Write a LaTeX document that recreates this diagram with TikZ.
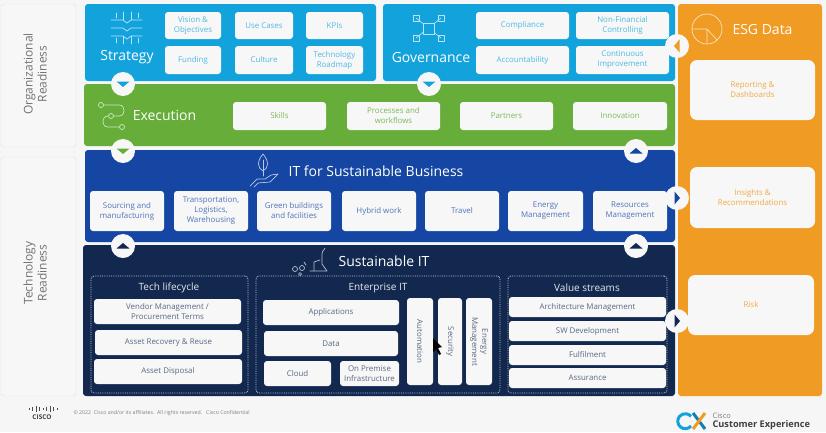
\documentclass[tikz,border=0pt]{standalone}
\usepackage{fontspec}
\setmainfont{Open Sans}
\definecolor{pagebg}{HTML}{F6F6F6}
\definecolor{cardbg}{HTML}{F7F7F7}
\definecolor{stratblue}{HTML}{13A3DC}
\definecolor{execgreen}{HTML}{66AD3A}
\definecolor{itblue}{HTML}{1546A3}
\definecolor{navy}{HTML}{12284F}
\definecolor{esgorange}{HTML}{F09B23}
\tikzset{
    size/.style 2 args={minimum width=#1,minimum height=#2,inner sep=0pt},
    panel/.style={rounded corners=3pt},
    sidecard/.style={fill=cardbg,draw=black!12,rounded corners=3pt},
    sidetext/.style={rotate=90,align=center,text=black!55,font=\fontsize{12}{14}\selectfont},
    card/.style={fill=cardbg,rounded corners=3pt,align=center,font=\fontsize{7.9}{10}\selectfont},
    stratcard/.style={card,text=stratblue!75},
    execcard/.style={card,text=execgreen!85},
    itcard/.style={card,text=itblue!75},
    navycard/.style={card,text=navy!70},
    uptext/.style={rotate=-90,align=center,text=navy!70,font=\fontsize{7.9}{10}\selectfont},
    esgcard/.style={card,rounded corners=7pt,text=esgorange!85},
    heading/.style={text=white,font=\fontsize{14}{16}\selectfont},
    subheading/.style={text=white!90!navy,font=\fontsize{10}{12}\selectfont},
    streambox/.style={draw=white!75!navy,densely dotted,line width=0.8pt,rounded corners=3pt},
    icon/.style={draw=white!70!#1,line width=0.7pt,line cap=round,line join=round},
    badge/.style={circle,fill=cardbg,minimum size=24pt,inner sep=0pt},
}
\begin{document}
\begin{tikzpicture}[x=1pt,y=-1pt]
    \useasboundingbox (0,0) rectangle (826,432);
    \fill[pagebg] (0,0) rectangle (826,432);

    % readiness columns
    \node[sidecard,size={75}{143}] (orgside) at (38.5,75.5) {};
    \node[sidecard,size={75}{239}] (techside) at (38.5,276.5) {};
    \node[sidetext] (orglabel) at (35,74) {Organizational\\Readiness};
    \node[sidetext] (techlabel) at (35,273) {Technology\\Readiness};

    % coloured panels
    \node[panel,fill=stratblue,size={291}{77}] (strategy) at (230.5,42.5) {};
    \node[panel,fill=stratblue,size={292}{77}] (governance) at (529,42.5) {};
    \node[panel,fill=execgreen,size={591}{62}] (execution) at (379.5,115) {};
    \node[panel,fill=itblue,size={590}{92}] (itbusiness) at (380,196) {};
    \node[panel,fill=navy,size={592}{151}] (sustit) at (379,320.5) {};
    \node[panel,fill=esgorange,size={144}{392}] (esg) at (750,200) {};

    % strategy
    \node[heading] (strategytitle) at (127,57) {Strategy};
    \node[stratcard,size={56}{27}] (vision) at (193,25.5) {Vision \&\\Objectives};
    \node[stratcard,size={58}{27}] (usecases) at (264,25.5) {Use Cases};
    \node[stratcard,size={57}{27}] (kpis) at (334.5,25.5) {KPIs};
    \node[stratcard,size={56}{28}] (funding) at (193,60) {Funding};
    \node[stratcard,size={58}{28}] (culture) at (264,60) {Culture};
    \node[stratcard,size={57}{28}] (roadmap) at (334.5,60) {Technology\\Roadmap};

    % governance
    \node[heading] (governancetitle) at (431,57) {Governance};
    \node[stratcard,size={93}{27}] (compliance) at (522.5,25.5) {Compliance};
    \node[stratcard,size={93}{27}] (nonfin) at (622.5,25.5) {Non-Financial\\Controlling};
    \node[stratcard,size={93}{28}] (account) at (522.5,60) {Accountability};
    \node[stratcard,size={93}{28}] (improve) at (622.5,60) {Continuous\\Improvement};

    % execution
    \node[heading] (executiontitle) at (164.5,115.5) {Execution};
    \node[execcard,size={93}{28}] (skills) at (279.5,116) {Skills};
    \node[execcard,size={93}{28}] (processes) at (393.5,116) {Processes and\\workflows};
    \node[execcard,size={93}{28}] (partners) at (506.5,116) {Partners};
    \node[execcard,size={94}{28}] (innovation) at (620,116) {Innovation};

    % it for sustainable business
    \node[heading] (ittitle) at (376,171) {IT for Sustainable Business};
    \node[itcard,size={74}{40}] (sourcing) at (127,211) {Sourcing and\\manufacturing};
    \node[itcard,size={74}{40}] (transport) at (211,211) {Transportation,\\Logistics,\\Warehousing};
    \node[itcard,size={74}{40}] (green) at (294,211) {Green buildings\\and facilities};
    \node[itcard,size={74}{40}] (hybrid) at (379,211) {Hybrid work};
    \node[itcard,size={74}{40}] (travel) at (462,211) {Travel};
    \node[itcard,size={75}{40}] (energy) at (545.5,211) {Energy\\Management};
    \node[itcard,size={74}{40}] (resources) at (630,211) {Resources\\Management};

    % sustainable it
    \node[heading] (sustittitle) at (384,261) {Sustainable IT};
    \node[streambox,size={157}{117}] (lifecycle) at (169.5,334.5) {};
    \node[streambox,size={244}{117}] (enterprise) at (378,334.5) {};
    \node[streambox,size={159}{117}] (valuestreams) at (587.5,334.5) {};
    \node[subheading] (lifecycletitle) at (169,288) {Tech lifecycle};
    \node[subheading] (enterprisetitle) at (378,288) {Enterprise IT};
    \node[subheading] (valuetitle) at (587,288) {Value streams};

    \node[navycard,size={147}{25}] (vendor) at (167.5,311.5) {Vendor Management /\\Procurement Terms};
    \node[navycard,size={147}{25}] (recovery) at (168.5,342.5) {Asset Recovery \& Reuse};
    \node[navycard,size={148}{25}] (disposal) at (168,371.5) {Asset Disposal};

    \node[navycard,size={136}{25}] (applications) at (331,312.5) {Applications};
    \node[navycard,size={134}{25}] (data) at (331,343.5) {Data};
    \node[navycard,size={67}{25}] (cloud) at (297.5,373.5) {Cloud};
    \node[navycard,size={59}{25}] (onprem) at (369.5,373.5) {On Premise\\Infrastructure};
    \node[navycard,size={26}{87}] (automationbg) at (420,341.5) {};
    \node[navycard,size={24}{87}] (securitybg) at (450,341.5) {};
    \node[navycard,size={26}{87}] (energybg) at (479,341.5) {};
    \node[uptext] (automation) at (automationbg) {Automation};
    \node[uptext] (security) at (securitybg) {Security};
    \node[uptext] (energymgmt) at (energybg) {Energy\\Management};

    \node[navycard,size={157}{20}] (architecture) at (587.5,307) {Architecture Management};
    \node[navycard,size={157}{20}] (swdev) at (587.5,331) {SW Development};
    \node[navycard,size={157}{20}] (fulfilment) at (587.5,355) {Fulfilment};
    \node[navycard,size={157}{20}] (assurance) at (587.5,378) {Assurance};

    % esg data
    \node[heading] (esgtitle) at (762.5,29) {ESG Data};
    \node[esgcard,size={125}{60}] (reporting) at (752.5,90) {Reporting \&\\Dashboards};
    \node[esgcard,size={125}{61}] (insights) at (752.5,197.5) {Insights \&\\Recommendations};
    \node[esgcard,size={126}{60}] (risk) at (751,305) {Risk};

    % badges
    \foreach \bname/\bx/\by/\bcol/\brot in {b1/123/84/stratblue/0, b2/429/84/stratblue/0, b3/123/151/execgreen/0,
        b4/636/151/itblue/180, b5/123/246/navy/180, b6/636/246/navy/180, b7/677/46/esgorange/-90,
        b8/677/198/itblue/90, b9/677/321/navy/90} {
        \node[badge] (\bname) at (\bx,\by) {};
        \fill[\bcol,shift={(\bx,\by)},rotate=\brot] (-6.5,-2.5) -- (6.5,-2.5) -- (0,3) -- cycle;
    }

    % strategy icon
    \foreach \yy in {20,28,36} {
        \draw[icon=stratblue] (111,\yy) -- (123,\yy) -- (127,\yy+3) -- (131,\yy) -- (142,\yy);
    }
    \draw[icon=stratblue] (116,13) -- (116,18) (123,12) -- (123,20) (131,12) -- (131,20) (138,13) -- (138,18);
    \draw[icon=stratblue] (116,38) -- (116,43) (123,36) -- (123,44) (131,36) -- (131,44) (138,38) -- (138,43);

    % governance icon
    \foreach \ix/\iy in {416/18,441/18,416/38,441/38} {
        \draw[icon=stratblue] (\ix-3,\iy-3) rectangle (\ix+3,\iy+3);
        \draw[icon=stratblue] (\ix,\iy) -- (428.5,28);
    }
    \draw[fill=stratblue,icon=stratblue] (423,23) rectangle (434,34);

    % execution icon
    \draw[icon=execgreen] (103,105) -- (119,105) to[out=0,in=0,looseness=1.6] (119,116) -- (108,116)
        to[out=180,in=180,looseness=1.6] (108,127) -- (119,127);
    \draw[icon=execgreen,fill=execgreen] (101,105) circle (2.5) (111,116) circle (2.5) (122,127) circle (2.5);

    % it icon
    \draw[icon=itblue] (263,154) .. controls (257,161) and (257,168) .. (263,171) .. controls (269,168) and (269,161) .. (263,154) -- cycle;
    \draw[icon=itblue] (263,160) -- (263,176);
    \draw[icon=itblue] (250,186) -- (257,179) -- (265,179) -- (271,175) -- (278,174) -- (270,182) -- (258,183) -- (254,187);

    % sustainable it icon
    \draw[icon=navy] (310,271) -- (327,271) -- (322,264) -- (322,254) (322,254) .. controls (322,250) and (325,250) .. (325,248);
    \draw[icon=navy] (314,271) -- (314,262) -- (320,260);
    \draw[icon=navy] (295,269) circle (2.5) (302,268) circle (2.5) (300,274) circle (1.5) (304,262) -- (306,265);

    % esg icon
    \draw[icon=esgorange] (707,29) circle (15);
    \draw[icon=esgorange] (692,29) -- (707,29) -- (717,40) (707,29) -- (707,44);

    % pointer
    \fill[black] (433,338) -- (433,352) -- (436,349) -- (439,355) -- (441,354) -- (438,348) -- (442,347) -- cycle;

    % footer
    \foreach \cx/\ch in {29/2,32.5/4,36/6,39.5/4,43/2,46.5/4,50/6,53.5/4,57/2} {
        \draw[black!70,line width=1pt] (\cx,409-\ch/2) -- (\cx,409+\ch/2);
    }
    \node[text=black!75,font=\bfseries\fontsize{6.5}{7}\selectfont] (ciscoword) at (42,417) {CISCO};
    \node[anchor=west,text=black!50,font=\fontsize{5.2}{6}\selectfont] (copyright) at (70,413) {© 2022\ \ Cisco and/or its affiliates.\ \ All rights reserved.\ \ \ Cisco Confidential};

    \draw[stratblue,line width=3pt] (691,426) arc (40:320:7.5);
    \draw[stratblue!80!black,line width=3pt] (693,413) -- (705,429);
    \draw[esgorange,line width=3pt] (705,413) -- (693,429);
    \node[anchor=west,text=black!50,font=\fontsize{7.5}{8}\selectfont] (cxcisco) at (709,416) {Cisco};
    \node[anchor=west,text=black!75,font=\bfseries\fontsize{9.2}{10}\selectfont] (cxname) at (709,425.5) {Customer Experience};
\end{tikzpicture}
\end{document}
